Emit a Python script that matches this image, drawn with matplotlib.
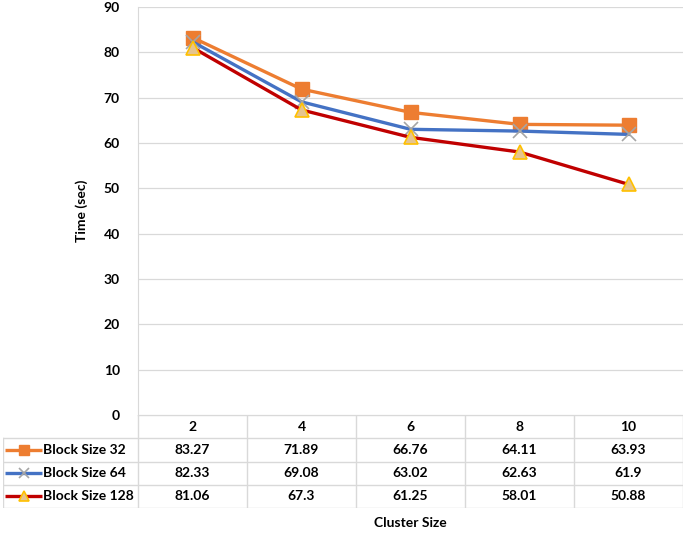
import matplotlib.pyplot as plt
import numpy as np

plt.rcParams['font.family'] = ['Lato', 'DejaVu Sans']

clusters = ['2', '4', '6', '8', '10']
names = ['Block Size 32', 'Block Size 64', 'Block Size 128']
bs32 = [83.27, 71.89, 66.76, 64.11, 63.93]
bs64 = [82.33, 69.08, 63.02, 62.63, 61.9]
bs128 = [81.06, 67.3, 61.25, 58.01, 50.88]
labels32 = ['83.27', '71.89', '66.76', '64.11', '63.93']
labels64 = ['82.33', '69.08', '63.02', '62.63', '61.9']
labels128 = ['81.06', '67.3', '61.25', '58.01', '50.88']

styles = [
    dict(color='#ED7D31', marker='s', ms=10, mfc='#ED7D31', mec='#ED7D31'),
    dict(color='#4472C4', marker='x', ms=10, mfc='#A5A5A5', mec='#A5A5A5', mew=1.2),
    dict(color='#C00000', marker='^', ms=10, mfc='#E6C48E', mec='#FFC000', mew=1.2),
]
series = [bs32, bs64, bs128]
cell_text = [labels32, labels64, labels128]
fs = 10

W, H = 685, 533
fig = plt.figure(figsize=(W / 100, H / 100), dpi=100)

# plot area
x0, x1, ytop, ybot = 138, 683, 7, 415
ax = fig.add_axes([x0 / W, 1 - ybot / H, (x1 - x0) / W, (ybot - ytop) / H])
x = np.arange(len(clusters))
for s, st in zip(series, styles):
    ax.plot(x, s, lw=2.4, zorder=3, **st)
ax.set_xlim(-0.5, len(clusters) - 0.5)
ax.set_ylim(0, 90)
ax.set_yticks(range(0, 91, 10))
ax.yaxis.grid(True, color='#D9D9D9', lw=0.9)
ax.set_axisbelow(True)
ax.set_xticks([])
for sp in ['top', 'right', 'bottom']:
    ax.spines[sp].set_visible(False)
ax.spines['left'].set_color('#D9D9D9')
ax.tick_params(axis='y', length=0, labelsize=fs, pad=13)
for t in ax.get_yticklabels():
    t.set_fontweight('bold')
ax.set_ylabel('Time (sec)', fontsize=fs, fontweight='bold', labelpad=11)

# data table
tl, tb = 3, 508
unit = (x1 - x0) / len(clusters)
left_units = (x0 - tl) / unit
tax = fig.add_axes([tl / W, 1 - tb / H, (x1 - tl) / W, (tb - ybot) / H])
tax.set_xlim(-0.5 - left_units, len(clusters) - 0.5)
tax.set_ylim(len(series) + 1, 0)
tax.axis('off')
gc = '#D9D9D9'
lx = -0.5 - left_units
rx = len(clusters) - 0.5
tax.plot([-0.5, rx], [0, 0], color=gc, lw=1)
for r in range(1, len(series) + 2):
    tax.plot([lx, rx], [r, r], color=gc, lw=1)
tax.plot([lx, lx], [1, len(series) + 1], color=gc, lw=1)
for c in range(len(clusters) + 1):
    tax.plot([c - 0.5, c - 0.5], [0, len(series) + 1], color=gc, lw=1)
for i, c in enumerate(clusters):
    tax.text(i, 0.5, c, ha='center', va='center', fontsize=fs, fontweight='bold')
for r, (nm, st, row) in enumerate(zip(names, styles, cell_text)):
    yy = r + 1.5
    kx0 = lx + 0.02
    kx1 = lx + 0.36
    tax.plot([kx0, kx1], [yy, yy], lw=2.4, color=st['color'], solid_capstyle='butt')
    tax.plot([(kx0 + kx1) / 2], [yy], linestyle='none', marker=st['marker'],
             ms=7, mfc=st['mfc'], mec=st['mec'], mew=st.get('mew', 1))
    tax.text(kx1 + 0.01, yy, nm, ha='left', va='center', fontsize=fs, fontweight='bold')
    for i, v in enumerate(row):
        tax.text(i, yy, v, ha='center', va='center', fontsize=fs, fontweight='bold')

fig.text((x0 + x1) / 2 / W, 1 - 523 / H, 'Cluster Size', ha='center', va='center',
         fontsize=fs, fontweight='bold')

fig.savefig('out.png', dpi=100)
